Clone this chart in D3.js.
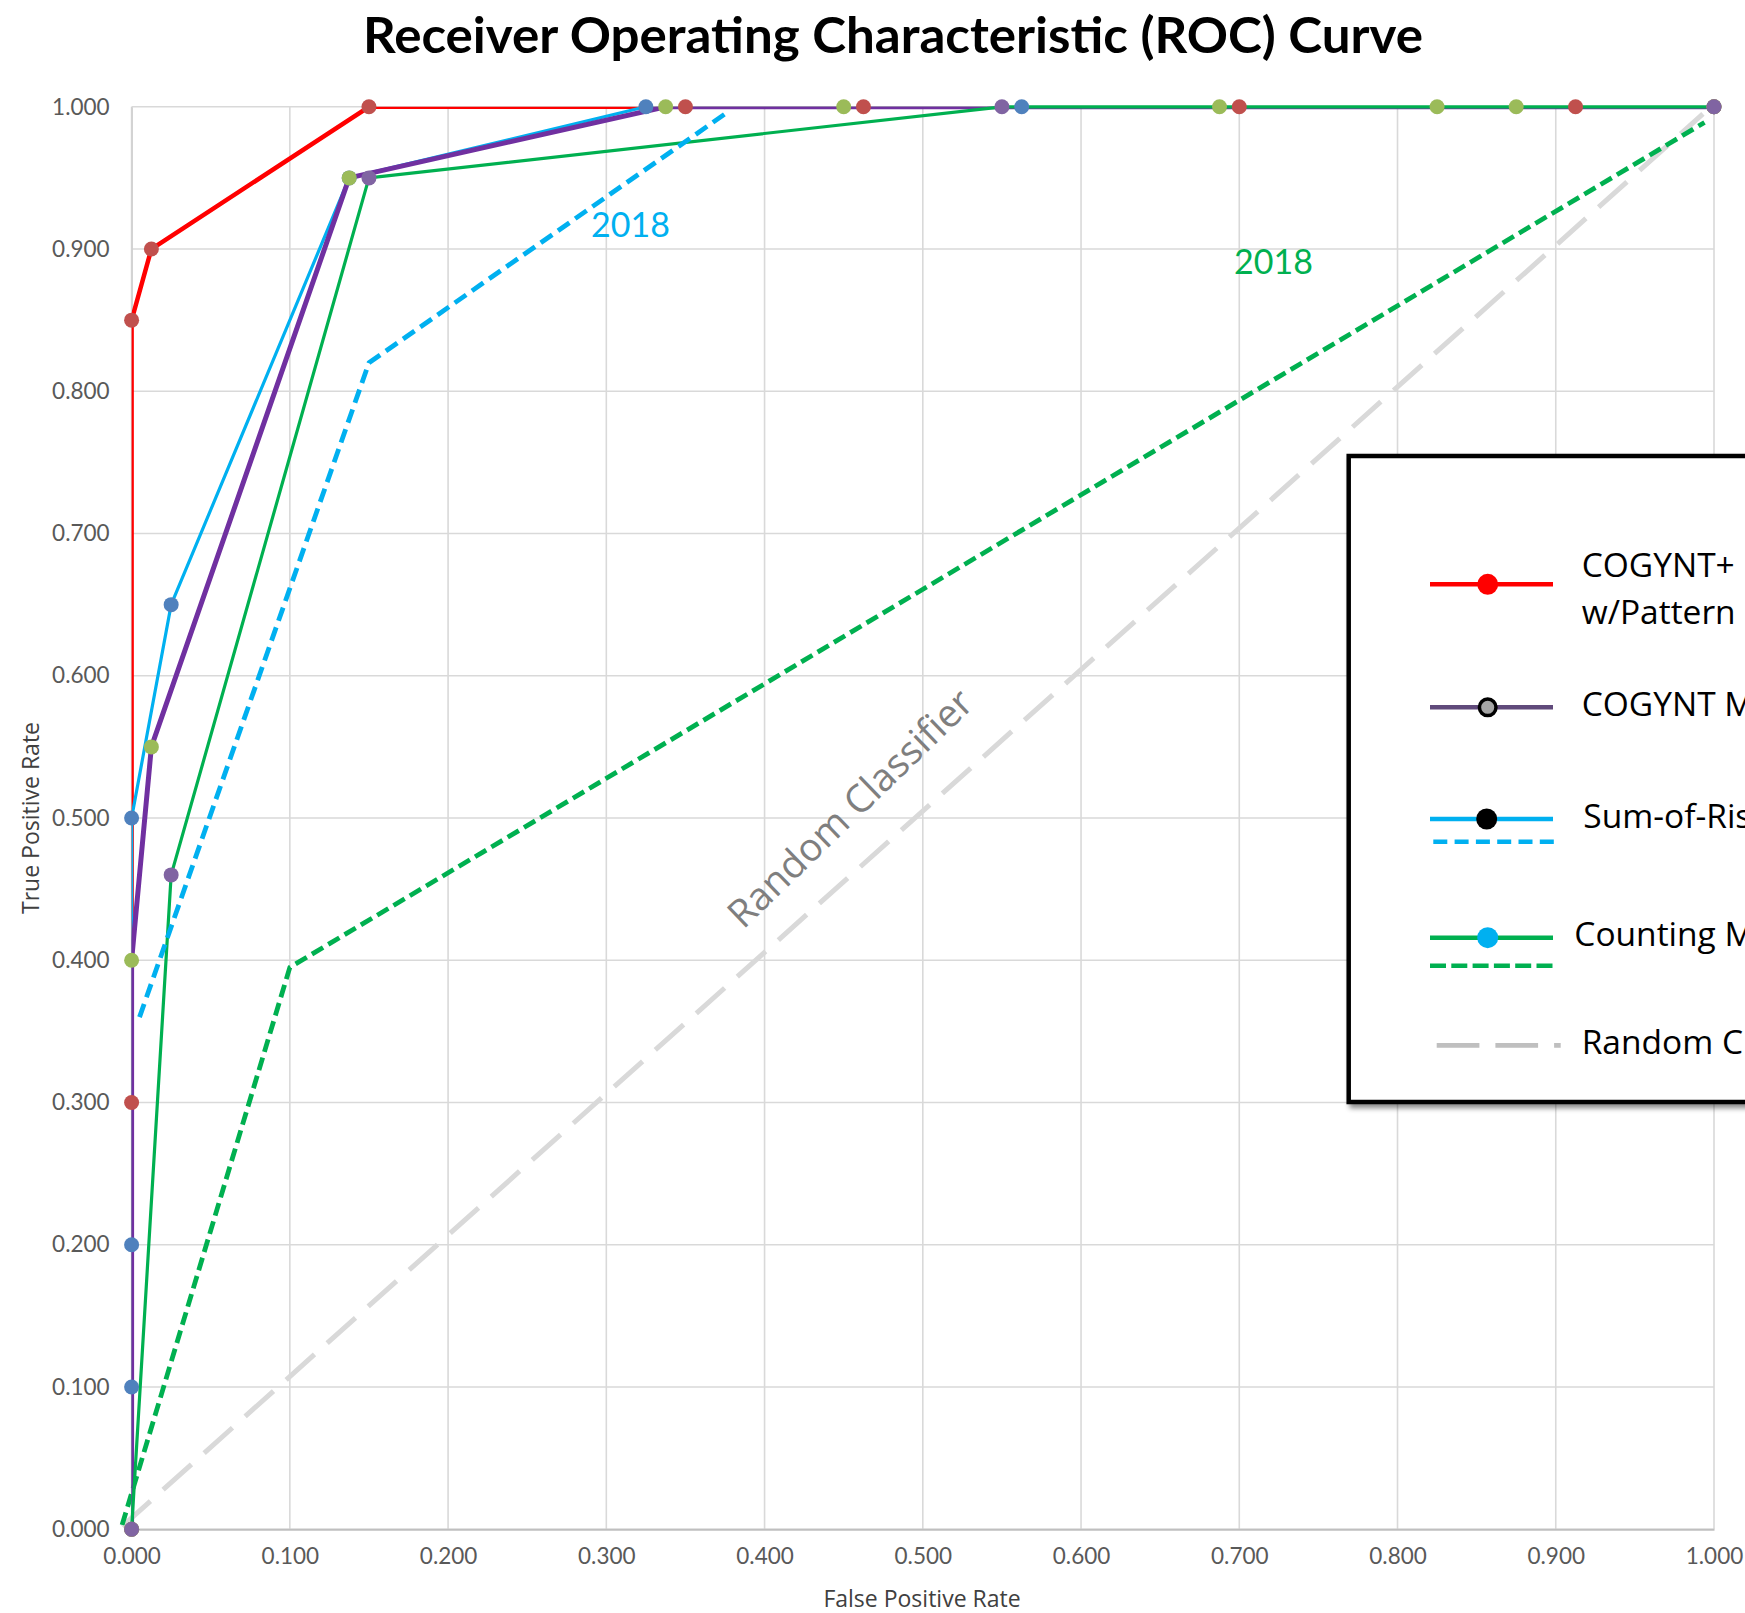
<!DOCTYPE html>
<html>
<head>
<meta charset="utf-8">
<script src="https://cdnjs.cloudflare.com/ajax/libs/d3/7.8.5/d3.min.js"></script>
<style>
  html, body { margin: 0; padding: 0; background: #fff; }
  svg { display: block; }
</style>
</head>
<body>
<svg id="chart" width="1745" height="1613" font-family="Lato, sans-serif"></svg>
<script>
// ---------------- data ----------------
const title = "Receiver Operating Characteristic (ROC) Curve";
const xAxisTitle = "False Positive Rate";
const yAxisTitle = "True Positive Rate";
const tickValues = [0, 0.1, 0.2, 0.3, 0.4, 0.5, 0.6, 0.7, 0.8, 0.9, 1.0];

// COGYNT+ w/Pattern (red line, red markers)
const cogyntPlusFPR = [0, 0, 0, 0.0125, 0.15, 0.35, 0.4625, 0.7, 0.9125, 1];
const cogyntPlusTPR = [0, 0.3, 0.85, 0.9, 1, 1, 1, 1, 1, 1];

// COGYNT Model (purple line, green markers)
const cogyntFPR = [0, 0, 0.0125, 0.1375, 0.3375, 0.45, 0.6875, 0.825, 0.875, 1];
const cogyntTPR = [0, 0.4, 0.55, 0.95, 1, 1, 1, 1, 1, 1];

// Sum-of-Risks (cyan line, blue markers)
const sumRiskFPR = [0, 0, 0, 0, 0.025, 0.1375, 0.325, 0.5625, 1];
const sumRiskTPR = [0, 0.1, 0.2, 0.5, 0.65, 0.95, 1, 1, 1];

// Sum-of-Risks 2018 (cyan dashed)
const sumRisk2018FPR = [0.005, 0.15, 0.375];
const sumRisk2018TPR = [0.36, 0.82, 0.995];

// Counting Model (green line, purple markers)
const countingFPR = [0, 0.025, 0.15, 0.55, 1];
const countingTPR = [0, 0.46, 0.95, 1, 1];

// Counting Model 2018 (green dashed)
const counting2018FPR = [-0.006, 0.1, 0.994];
const counting2018TPR = [0.003, 0.395, 0.989];

// Random classifier (gray long dash)
const randomFPR = [-0.006, 0.993];
const randomTPR = [0.002, 0.995];

const legendLabels = [
  ["COGYNT+", "w/Pattern Matching"],
  ["COGYNT Model"],
  ["Sum-of-Risks"],
  ["Counting Model"],
  ["Random Classifier"]
];
const annotations = ["2018", "2018", "Random Classifier"];

// ---------------- drawing ----------------
const OPEN = "'Open Sans', sans-serif";
const LATO = "Lato, sans-serif";
const svg = d3.select("#chart");
const W = 1745, H = 1613;
const plot = {left: 131.6, right: 1714, top: 106.8, bottom: 1529.2};

const x = d3.scaleLinear().domain([0, 1]).range([plot.left, plot.right]);
const y = d3.scaleLinear().domain([0, 1]).range([plot.bottom, plot.top]);

svg.append("rect").attr("width", W).attr("height", H).attr("fill", "#fff");

const defs = svg.append("defs");
defs.append("clipPath").attr("id", "plotClip")
  .append("rect")
  .attr("x", plot.left).attr("y", plot.top)
  .attr("width", plot.right - plot.left).attr("height", plot.bottom - plot.top);
const f = defs.append("filter").attr("id", "shadow")
  .attr("x", "-10%").attr("y", "-10%").attr("width", "130%").attr("height", "130%");
f.append("feDropShadow").attr("dx", 3).attr("dy", 4).attr("stdDeviation", 2.5)
  .attr("flood-color", "#000").attr("flood-opacity", 0.45);

// title
svg.append("text")
  .attr("x", 893).attr("y", 53)
  .attr("text-anchor", "middle")
  .style("font-family", LATO)
  .attr("font-weight", "bold")
  .attr("font-size", 50)
  .attr("textLength", 1060)
  .attr("lengthAdjust", "spacingAndGlyphs")
  .attr("fill", "#000")
  .text(title);

// gridlines
const grid = svg.append("g");
grid.selectAll("line.v").data(tickValues).join("line")
  .attr("x1", d => x(d)).attr("x2", d => x(d))
  .attr("y1", y(1)).attr("y2", y(0))
  .attr("stroke", "#d9d9d9").attr("stroke-width", 1.6);
grid.selectAll("line.h").data(tickValues).join("line")
  .attr("class", "h")
  .attr("x1", x(0)).attr("x2", x(1))
  .attr("y1", d => y(d)).attr("y2", d => y(d))
  .attr("stroke", "#d9d9d9").attr("stroke-width", 1.6);

// axes
const fmt = d3.format(".3f");
const xAxis = d3.axisBottom(x).tickValues(tickValues).tickFormat(fmt).tickSize(0).tickPadding(19);
const yAxis = d3.axisLeft(y).tickValues(tickValues).tickFormat(fmt).tickSize(0).tickPadding(22);
const gx = svg.append("g").attr("transform", `translate(0,${plot.bottom})`).call(xAxis);
const gy = svg.append("g").attr("transform", `translate(${plot.left},0)`).call(yAxis);
[gx, gy].forEach(g => {
  g.attr("font-family", null).attr("font-size", null);
  g.select(".domain").attr("stroke", "#bfbfbf").attr("stroke-width", 2);
  g.selectAll("text").style("font-family", LATO).style("font-size", "22.5px").attr("fill", "#595959");
});
gy.select(".domain").attr("stroke", "#d0d0d0").attr("stroke-width", 1.6);
gx.selectAll("text").attr("dy", "0.71em");

// axis titles
svg.append("text").attr("x", 922).attr("y", 1607)
  .attr("text-anchor", "middle").style("font-family", OPEN)
  .style("font-size", "23px").attr("fill", "#404040")
  .text(xAxisTitle);
svg.append("text")
  .attr("transform", `translate(39,818) rotate(-90)`)
  .attr("text-anchor", "middle").style("font-family", OPEN)
  .style("font-size", "23px").attr("fill", "#404040")
  .text(yAxisTitle);

const line = d3.line().x(d => x(d[0])).y(d => y(d[1]));
const zip = (a, b) => a.map((v, i) => [v, b[i]]);

const lines = svg.append("g");
function drawLine(xs, ys, color, width, dash, clip) {
  const p = lines.append("path")
    .attr("d", line(zip(xs, ys)))
    .attr("fill", "none")
    .attr("stroke", color)
    .attr("stroke-width", width)
    .attr("stroke-linejoin", "round");
  if (dash) p.attr("stroke-dasharray", dash);
  if (clip) p.attr("clip-path", "url(#plotClip)");
  return p;
}

// random classifier
drawLine(randomFPR, randomTPR, "#d9d9d9", 5, "38,17", false);
// counting 2018 dashed
drawLine(counting2018FPR, counting2018TPR, "#00b050", 4.8, "13,6", false);
// COGYNT+ red
drawLine(cogyntPlusFPR, cogyntPlusTPR, "#ff0000", 4.5, null, true);
// sum-of-risks solid
drawLine(sumRiskFPR, sumRiskTPR, "#00b0f0", 3.2, null, true);
// COGYNT model purple
drawLine(cogyntFPR, cogyntTPR, "#7030a0", 5, null, true);
// counting solid green
drawLine(countingFPR, countingTPR, "#00b050", 3.2, null, false);
// sum-of-risks 2018 dashed
drawLine(sumRisk2018FPR, sumRisk2018TPR, "#00b0f0", 4.8, "14,7", false);

// markers
const markers = svg.append("g");
function drawMarkers(xs, ys, color) {
  markers.append("g").selectAll("circle").data(zip(xs, ys)).join("circle")
    .attr("cx", d => x(d[0])).attr("cy", d => y(d[1]))
    .attr("r", 7.5).attr("fill", color);
}
drawMarkers(sumRiskFPR, sumRiskTPR, "#4f81bd");
drawMarkers(cogyntPlusFPR, cogyntPlusTPR, "#c0504d");
drawMarkers(cogyntFPR, cogyntTPR, "#9bbb59");
drawMarkers(countingFPR, countingTPR, "#8064a2");

// annotations
svg.append("text").attr("x", 591).attr("y", 237).style("font-family", LATO).style("font-size", "34px")
  .attr("fill", "#00b0f0").text(annotations[0]);
svg.append("text").attr("x", 1234).attr("y", 274).style("font-family", LATO).style("font-size", "34px")
  .attr("fill", "#00b050").text(annotations[1]);
svg.append("text")
  .attr("transform", "translate(849,807) rotate(-44)")
  .attr("text-anchor", "middle").attr("dominant-baseline", "central")
  .style("font-family", OPEN)
  .style("font-size", "38.5px").attr("fill", "#7f7f7f")
  .text(annotations[2]);

// legend
const lg = svg.append("g");
lg.append("rect")
  .attr("x", 1348.7).attr("y", 456).attr("width", 500).attr("height", 646)
  .attr("fill", "#fff").attr("stroke", "#000").attr("stroke-width", 4.5)
  .attr("filter", "url(#shadow)");

function legLine(y0, color, width, dash, x0 = 1430, x1 = 1553) {
  const l = lg.append("line").attr("x1", x0).attr("x2", x1).attr("y1", y0).attr("y2", y0)
    .attr("stroke", color).attr("stroke-width", width);
  if (dash) l.attr("stroke-dasharray", dash);
}
function legText(tx, ty, s) {
  lg.append("text").attr("x", tx).attr("y", ty)
    .style("font-family", OPEN)
    .style("font-size", "33.5px").attr("fill", "#000").text(s);
}
// item 1
legLine(584.3, "#ff0000", 4.5);
lg.append("circle").attr("cx", 1487.7).attr("cy", 584.3).attr("r", 10.5).attr("fill", "#ff0000");
legText(1581.7, 576.7, legendLabels[0][0]);
legText(1581.7, 624.3, legendLabels[0][1]);
// item 2
legLine(707.3, "#604a7b", 4.5);
lg.append("circle").attr("cx", 1487.7).attr("cy", 707.3).attr("r", 8.3).attr("fill", "#a5a5a5")
  .attr("stroke", "#000").attr("stroke-width", 3.5);
legText(1581.7, 716, legendLabels[1][0]);
// item 3
legLine(819, "#00b0f0", 4.5);
lg.append("circle").attr("cx", 1486.7).attr("cy", 819).attr("r", 10.5).attr("fill", "#000");
legLine(841.7, "#00b0f0", 4.5, "14,7.3", 1433.3, 1556);
legText(1583.3, 827.7, legendLabels[2][0]);
// item 4
legLine(937.7, "#00b050", 4.5);
lg.append("circle").attr("cx", 1487.7).attr("cy", 937.7).attr("r", 10.5).attr("fill", "#00b0f0");
legLine(965.7, "#00b050", 4.5, "16,5.3", 1430, 1553.3);
legText(1574.3, 945.7, legendLabels[3][0]);
// item 5
legLine(1045.3, "#bfbfbf", 4.7, "42.7,16", 1436.7, 1560.7);
legText(1581.7, 1054, legendLabels[4][0]);
</script>
</body>
</html>
